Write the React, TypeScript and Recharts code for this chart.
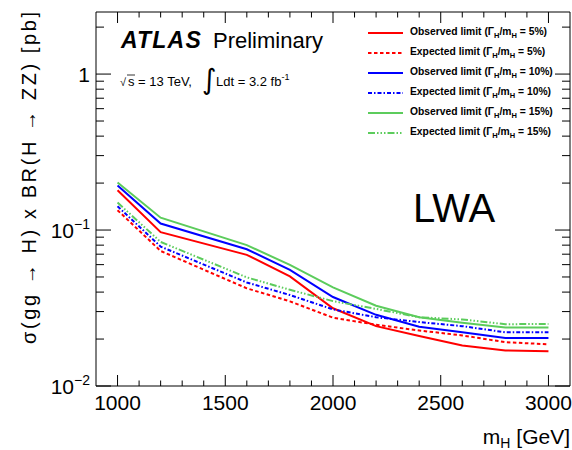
import React from "react";
import { LineChart, Line, XAxis, YAxis, Legend } from "recharts";

// mass points (GeV)
const masses = [1000, 1200, 1600, 1800, 2000, 2200, 2400, 2600, 2800, 3000];

// limits in pb
const obs5 = [0.18, 0.097, 0.0693, 0.0504, 0.0315, 0.0242, 0.0209, 0.0182, 0.0169, 0.0167];
const exp5 = [0.134, 0.0734, 0.0423, 0.0349, 0.0274, 0.0247, 0.0227, 0.0211, 0.0191, 0.0185];
const obs10 = [0.193, 0.11, 0.0753, 0.0556, 0.0372, 0.0286, 0.024, 0.0221, 0.0203, 0.0203];
const exp10 = [0.142, 0.0783, 0.0461, 0.0383, 0.031, 0.0276, 0.0257, 0.0242, 0.0221, 0.0221];
const obs15 = [0.202, 0.12, 0.08, 0.0598, 0.0429, 0.0327, 0.0276, 0.0254, 0.0237, 0.0237];
const exp15 = [0.15, 0.0839, 0.0497, 0.0414, 0.035, 0.0312, 0.0276, 0.0267, 0.0249, 0.025];

const xTicks = [
  1000, 1100, 1200, 1300, 1400, 1500, 1600, 1700, 1800, 1900, 2000,
  2100, 2200, 2300, 2400, 2500, 2600, 2700, 2800, 2900, 3000,
];
const xMajor = [1000, 1500, 2000, 2500, 3000];

const yTicks = [
  0.01, 0.02, 0.03, 0.04, 0.05, 0.06, 0.07, 0.08, 0.09,
  0.1, 0.2, 0.3, 0.4, 0.5, 0.6, 0.7, 0.8, 0.9, 1, 2,
];
const yMajor = [0.01, 0.1, 1];

const series = [
  { key: "obs5", kind: "Observed", pct: "5%", color: "#ff0000", dash: undefined },
  { key: "exp5", kind: "Expected", pct: "5%", color: "#ff0000", dash: "3.5 2.5" },
  { key: "obs10", kind: "Observed", pct: "10%", color: "#0000ff", dash: undefined },
  { key: "exp10", kind: "Expected", pct: "10%", color: "#0000ff", dash: "4 2 1.5 2" },
  { key: "obs15", kind: "Observed", pct: "15%", color: "#5ccc5c", dash: undefined },
  { key: "exp15", kind: "Expected", pct: "15%", color: "#5ccc5c", dash: "7 2 1.5 2 1.5 2 1.5 2" },
];

const data = masses.map((m, i) => ({
  m,
  obs5: obs5[i],
  exp5: exp5[i],
  obs10: obs10[i],
  exp10: exp10[i],
  obs15: obs15[i],
  exp15: exp15[i],
}));

const FONT = "'Liberation Sans', Arial, Helvetica, sans-serif";

const BottomTick = (props: any) => {
  const { x, y, payload } = props;
  const major = xMajor.includes(payload.value);
  return (
    <g>
      <line x1={x} x2={x} y1={y} y2={y - (major ? 11 : 5.5)} stroke="#000" />
      {major && (
        <text x={x} y={y + 24} textAnchor="middle" fontSize={21} fontFamily={FONT} fill="#000">
          {payload.value}
        </text>
      )}
    </g>
  );
};

const TopTick = (props: any) => {
  const { x, y, payload } = props;
  const major = xMajor.includes(payload.value);
  return <line x1={x} x2={x} y1={y} y2={y + (major ? 11 : 5.5)} stroke="#000" />;
};

const LeftTick = (props: any) => {
  const { x, y, payload } = props;
  const v = payload.value;
  const major = yMajor.includes(v);
  return (
    <g>
      <line x1={x} x2={x + (major ? 15 : 8)} y1={y} y2={y} stroke="#000" />
      {major && (
        <text x={x - 6} y={y} dy="0.36em" textAnchor="end" fontSize={21} fontFamily={FONT} fill="#000">
          {v === 1 ? "1" : "10"}
          {v !== 1 && (
            <tspan dy={-9} fontSize={14}>
              {v === 0.1 ? "\u22121" : "\u22122"}
            </tspan>
          )}
        </text>
      )}
    </g>
  );
};

const RightTick = (props: any) => {
  const { x, y, payload } = props;
  const major = yMajor.includes(payload.value);
  return <line x1={x} x2={x - (major ? 15 : 8)} y1={y} y2={y} stroke="#000" />;
};

const LegendBox = () => (
  <div style={{ fontFamily: FONT, fontWeight: "bold", fontSize: 10.3, color: "#000" }}>
    {series.map((s) => (
      <div key={s.key} style={{ display: "flex", alignItems: "center", height: 20 }}>
        <svg width={35} height={6}>
          <line x1={0} x2={35} y1={3} y2={3} stroke={s.color} strokeWidth={2} strokeDasharray={s.dash} />
        </svg>
        <span style={{ marginLeft: 7, whiteSpace: "nowrap" }}>
          {s.kind} limit ({"\u0393"}
          <span style={{ fontSize: 7.5, verticalAlign: -3 }}>H</span>/m
          <span style={{ fontSize: 7.5, verticalAlign: -3 }}>H</span> = {s.pct})
        </span>
      </div>
    ))}
  </div>
);

export default function App() {
  return (
    <div style={{ position: "absolute", left: 0, top: 0, width: 572, height: 450, background: "#fff" }}>
      <LineChart width={572} height={450} data={data} margin={{ top: 11, right: 1, bottom: 63, left: 95 }}>
        <XAxis
          type="number"
          dataKey="m"
          domain={[900, 3100]}
          allowDataOverflow
          ticks={xTicks}
          interval={0}
          height={1}
          tickSize={0}
          tickMargin={0}
          tick={<BottomTick />}
          axisLine={{ stroke: "#000" }}
        />
        <XAxis
          xAxisId="top"
          orientation="top"
          type="number"
          dataKey="m"
          domain={[900, 3100]}
          allowDataOverflow
          ticks={xTicks}
          interval={0}
          height={1}
          tickSize={0}
          tickMargin={0}
          tick={<TopTick />}
          axisLine={{ stroke: "#000" }}
        />
        <YAxis
          type="number"
          scale="log"
          domain={[0.01, 2.5]}
          allowDataOverflow
          ticks={yTicks}
          interval={0}
          width={1}
          tickSize={0}
          tickMargin={0}
          tick={<LeftTick />}
          axisLine={{ stroke: "#000" }}
        />
        <YAxis
          yAxisId="right"
          orientation="right"
          type="number"
          scale="log"
          domain={[0.01, 2.5]}
          allowDataOverflow
          ticks={yTicks}
          interval={0}
          width={1}
          tickSize={0}
          tickMargin={0}
          tick={<RightTick />}
          axisLine={{ stroke: "#000" }}
        />
        {series.map((s) => (
          <Line
            key={s.key}
            type="linear"
            dataKey={s.key}
            stroke={s.color}
            strokeWidth={2}
            strokeDasharray={s.dash}
            dot={false}
            isAnimationActive={false}
          />
        ))}
        <Legend
          layout="vertical"
          align="center"
          verticalAlign="middle"
          content={<LegendBox />}
          wrapperStyle={{ left: 368, top: 23, width: 200, height: 120 }}
        />
      </LineChart>
      <svg
        width={572}
        height={450}
        style={{ position: "absolute", left: 0, top: 0, pointerEvents: "none" }}
        fontFamily={FONT}
      >
        <text x={121} y={48} fontSize={23} fontWeight="bold" fontStyle="italic" letterSpacing={1.2}>
          ATLAS
        </text>
        <text x={213} y={48} fontSize={22}>Preliminary</text>
        <text x={120} y={86} fontSize={11}>{"\u221A"}</text>
        <line x1={127} x2={135} y1={75} y2={75} stroke="#000" strokeWidth={0.8} />
        <text x={128} y={86} fontSize={13}>s = 13 TeV,</text>
        <text x={202} y={89} fontSize={28} fontFamily="'DejaVu Sans', sans-serif">{"\u222B"}</text>
        <text x={216} y={86} fontSize={13}>
          Ldt = 3.2 fb<tspan dy={-6} fontSize={9}>-1</tspan>
        </text>
        <text x={413} y={222} fontSize={40}>LWA</text>
        <text
          x={0}
          y={0}
          transform="translate(36, 344) rotate(-90)"
          fontSize={20}
          textLength={332}
          lengthAdjust="spacing"
        >
          {"\u03C3(gg \u2192 H) x BR(H \u2192 ZZ) [pb]"}
        </text>
        <text x={570} y={444} fontSize={21} textAnchor="end">
          m<tspan dy={4} fontSize={14}>H</tspan>
          <tspan dy={-4}> [GeV]</tspan>
        </text>
      </svg>
    </div>
  );
}
